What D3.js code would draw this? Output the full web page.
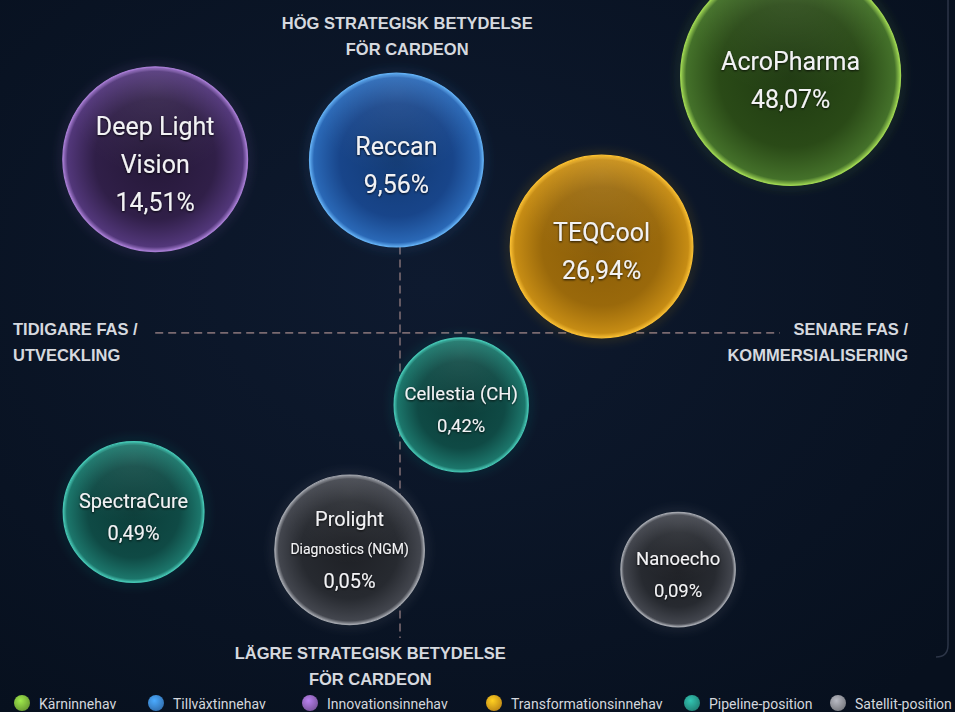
<!DOCTYPE html>
<html>
<head>
<meta charset="utf-8">
<script src="https://cdn.jsdelivr.net/npm/d3@7"></script>
<style>
  html, body { margin: 0; padding: 0; background: #0a1324; overflow: hidden; }
  svg { display: block; }
</style>
</head>
<body>
<svg id="chart"></svg>
<script>
(function () {
    const W = 955;
    const H = 712;

    // holdings
    const names = ["AcroPharma", "TEQCool", "Reccan", "Deep Light Vision", "Cellestia (CH)", "SpectraCure", "Prolight", "Nanoecho"];
    const nameLines = [["AcroPharma"], ["TEQCool"], ["Reccan"], ["Deep Light", "Vision"], ["Cellestia (CH)"], ["SpectraCure"], ["Prolight"], ["Nanoecho"]];
    const subtitles = ["", "", "", "", "", "", "Diagnostics (NGM)", ""];
    const shares = [48.07, 26.94, 9.56, 14.51, 0.42, 0.49, 0.05, 0.09];
    const holdingType = ["Kärninnehav", "Transformationsinnehav", "Tillväxtinnehav", "Innovationsinnehav", "Pipeline-position", "Pipeline-position", "Satellit-position", "Satellit-position"];
    // x: phase (early -> commercial), y: strategic importance (low -> high)
    const phase = [4.34, 2.24, -0.04, -2.72, 0.68, -2.96, -0.56, 3.09];
    const strategic = [2.85, 0.95, 1.91, 1.92, -0.81, -2.0, -2.42, -2.64];
    const bubbleSize = [10, 8.3, 7.9, 8.4, 6.1, 6.4, 6.8, 5.2];

    const categories = ["Kärninnehav", "Tillväxtinnehav", "Innovationsinnehav", "Transformationsinnehav", "Pipeline-position", "Satellit-position"];
    const categoryColors = ["#86c440", "#3f8fe0", "#9b6cc8", "#f0ae1c", "#2aa596", "#9a9ca3"];
    // sphere shading: centre, middle, edge, rim
    const sphereShades = [
        ["#1f3a11", "#2a4a17", "#44712a", "#9ed552"],
        ["#123a74", "#18458a", "#2a68b6", "#62aef2"],
        ["#251838", "#301f48", "#52377a", "#a67cd2"],
        ["#8a5d08", "#9a690b", "#c68c14", "#f7bd32"],
        ["#0b3d39", "#0f4a45", "#1c766b", "#45c4b2"],
        ["#1e2025", "#272a30", "#43464e", "#a2a5ac"]
    ];

    // quadrant axis labels
    const topLabel = ["HÖG STRATEGISK BETYDELSE", "FÖR CARDEON"];
    const bottomLabel = ["LÄGRE STRATEGISK BETYDELSE", "FÖR CARDEON"];
    const leftLabel = ["TIDIGARE FAS /", "UTVECKLING"];
    const rightLabel = ["SENARE FAS /", "KOMMERSIALISERING"];

    const data = names.map((n, i) => ({
        name: n, lines: nameLines[i], sub: subtitles[i], share: shares[i],
        type: holdingType[i], x: phase[i], y: strategic[i], size: bubbleSize[i]
    }));

    const svg = d3.select("#chart").attr("width", W).attr("height", H);
    const defs = svg.append("defs");

    const x = d3.scaleLinear().domain([-4, 6]).range([40, 940]);
    const y = d3.scaleLinear().domain([-4, 4]).range([692, -28]);
    const r = d3.scaleLinear().domain([0, 10]).range([0, 110]);
    const color = d3.scaleOrdinal().domain(categories).range(categoryColors);
    const fmt = v => d3.format(".2f")(v).replace(".", ",") + "%";

    // background
    const bg = defs.append("radialGradient").attr("id", "bg")
        .attr("cx", "45%").attr("cy", "40%").attr("r", "75%");
    bg.append("stop").attr("offset", "0%").attr("stop-color", "#0e1a2f");
    bg.append("stop").attr("offset", "100%").attr("stop-color", "#07101e");
    svg.append("rect").attr("width", W).attr("height", H).attr("fill", "url(#bg)");

    // card edge on the right
    svg.append("path")
        .attr("d", "M948,0 V645 Q948,657 936,657")
        .attr("fill", "none").attr("stroke", "#2c3547").attr("stroke-width", 1.5);

    // quadrant lines
    const g = svg.append("g");
    g.append("line")
        .attr("x1", x(-2.72)).attr("x2", x(4.22))
        .attr("y1", y(-0.01)).attr("y2", y(-0.01))
        .attr("stroke", "#7a6a70").attr("stroke-width", 1.6).attr("stroke-dasharray", "8 5");
    g.append("line")
        .attr("x1", x(0)).attr("x2", x(0))
        .attr("y1", y(0.95)).attr("y2", y(-3.4))
        .attr("stroke", "#7a6a70").attr("stroke-width", 1.6).attr("stroke-dasharray", "8 5");

    function label(lines, px, py, anchor) {
        const t = svg.append("text")
            .attr("text-anchor", anchor)
            .attr("font-family", "'Liberation Sans Narrow', 'Liberation Sans', sans-serif")
            .attr("font-weight", "bold")
            .attr("font-size", 16.5)
            .attr("fill", "#d6d9df");
        lines.forEach((l, i) => {
            t.append("tspan").attr("x", px).attr("y", py + i * 26).text(l);
        });
    }
    label(topLabel, x(0.08), 29, "middle");
    label(bottomLabel, x(-0.33), 659, "middle");
    label(leftLabel, 13, 335, "start");
    label(rightLabel, 908, 335, "end");

    // glow + gradients
    const glow = defs.append("filter").attr("id", "glow")
        .attr("x", "-50%").attr("y", "-50%").attr("width", "200%").attr("height", "200%");
    glow.append("feGaussianBlur").attr("stdDeviation", 5);

    const shadow = defs.append("filter").attr("id", "tshadow")
        .attr("x", "-20%").attr("y", "-50%").attr("width", "140%").attr("height", "200%");
    shadow.append("feDropShadow").attr("dx", 0).attr("dy", 1).attr("stdDeviation", 1.2)
        .attr("flood-color", "#000").attr("flood-opacity", 0.8);

    categories.forEach((c, i) => {
        const s = sphereShades[i];
        const grad = defs.append("radialGradient").attr("id", "sph" + i)
            .attr("cx", "50%").attr("cy", "50%").attr("r", "50%");
        grad.append("stop").attr("offset", "0%").attr("stop-color", s[0]);
        grad.append("stop").attr("offset", "65%").attr("stop-color", s[1]);
        grad.append("stop").attr("offset", "95%").attr("stop-color", s[2]);
        grad.append("stop").attr("offset", "100%").attr("stop-color", s[3]);
        const hl = defs.append("radialGradient").attr("id", "hl" + i)
            .attr("cx", "50%").attr("cy", "10%").attr("r", "50%");
        hl.append("stop").attr("offset", "0%").attr("stop-color", "#ffffff").attr("stop-opacity", 0.08);
        hl.append("stop").attr("offset", "100%").attr("stop-color", "#ffffff").attr("stop-opacity", 0);
    });

    const bubbles = svg.append("g").selectAll("g")
        .data(data).enter().append("g")
        .attr("transform", d => `translate(${x(d.x)},${y(d.y)})`);

    bubbles.append("circle")
        .attr("r", d => r(d.size) + 1)
        .attr("fill", "none")
        .attr("stroke", d => color(d.type))
        .attr("stroke-opacity", 0.22)
        .attr("stroke-width", 4)
        .attr("filter", "url(#glow)");

    bubbles.append("circle")
        .attr("r", d => r(d.size))
        .attr("fill", d => `url(#sph${categories.indexOf(d.type)})`)
        .attr("stroke", d => sphereShades[categories.indexOf(d.type)][3])
        .attr("stroke-width", 1.2);

    bubbles.append("circle")
        .attr("r", d => r(d.size) - 2)
        .attr("fill", d => `url(#hl${categories.indexOf(d.type)})`);

    bubbles.each(function (d) {
        const big = r(d.size) > 80;
        const fs = big ? 25 : (d.size > 6.2 ? 20 : 18.5);
        const lh = big ? 38 : 32;
        const rows = d.lines.map(l => ({ text: l, size: fs, h: lh }));
        if (d.sub) rows.push({ text: d.sub, size: 14, h: 30 });
        rows.push({ text: fmt(d.share), size: fs, h: lh });
        const total = d3.sum(rows, (row, i) => i === 0 ? 0 : row.h);
        let cy = -total / 2 + 5 + (d.sub ? -5 : 0);
        const t = d3.select(this).append("text")
            .attr("text-anchor", "middle")
            .attr("font-family", "Roboto, sans-serif")
            .attr("fill", "#f2f2f4")
            .attr("filter", "url(#tshadow)");
        rows.forEach((row, i) => {
            if (i > 0) cy += row.h;
            t.append("tspan")
                .attr("x", 0).attr("y", cy)
                .attr("dy", "0.35em")
                .attr("font-size", row.size)
                .text(row.text);
        });
    });

    // legend
    categories.forEach((c, i) => {
        const base = d3.color(categoryColors[i]);
        const lg = defs.append("radialGradient").attr("id", "leg" + i)
            .attr("cx", "40%").attr("cy", "35%").attr("r", "65%");
        lg.append("stop").attr("offset", "0%").attr("stop-color", base.brighter(0.5));
        lg.append("stop").attr("offset", "100%").attr("stop-color", base.darker(0.6));
    });
    const legX = [22, 156, 310, 494, 692, 838];
    const legend = svg.append("g").selectAll("g")
        .data(categories).enter().append("g")
        .attr("transform", (d, i) => `translate(${legX[i]},703)`);
    legend.append("circle")
        .attr("r", 8)
        .attr("fill", (d, i) => `url(#leg${i})`);
    legend.append("text")
        .attr("x", 17).attr("y", 1)
        .attr("dy", "0.35em")
        .attr("font-family", "Roboto, sans-serif")
        .attr("font-size", 14)
        .attr("fill", "#d4d7dd")
        .text(d => d);
})();
</script>
</body>
</html>
